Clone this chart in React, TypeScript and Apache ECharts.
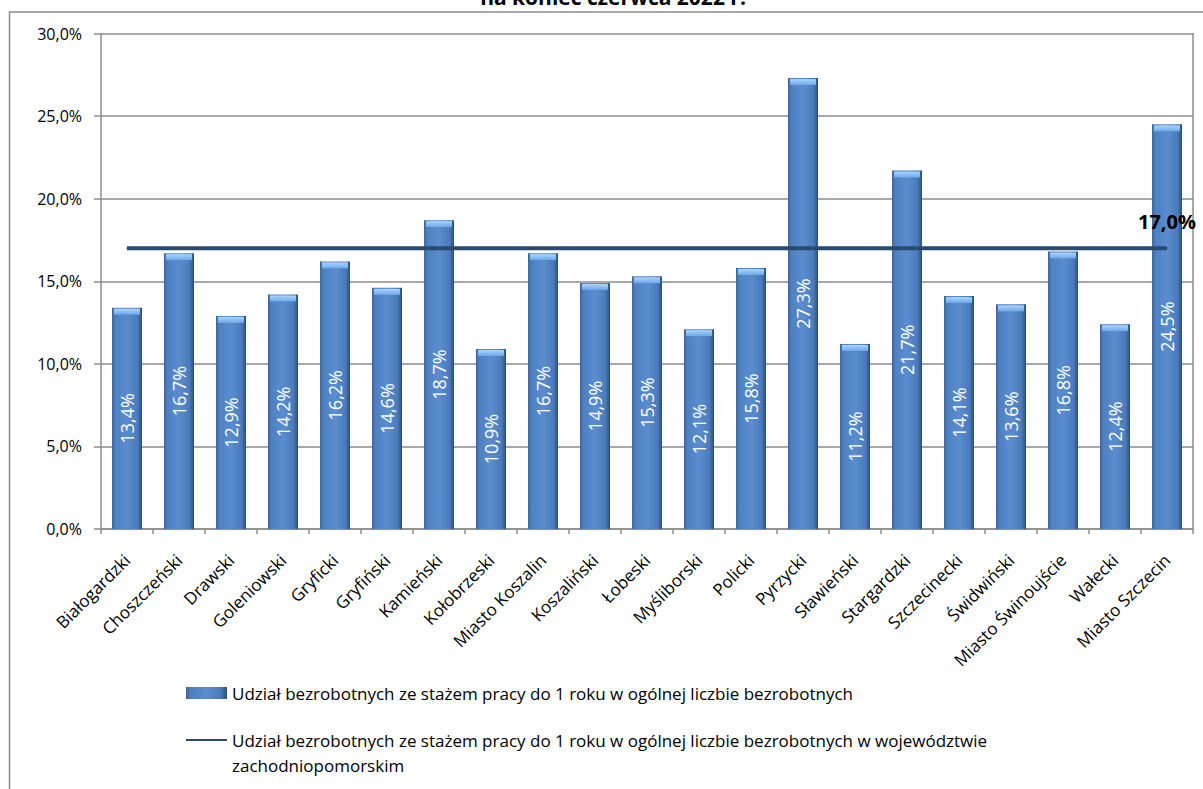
import React, { useEffect, useRef } from "react";
import * as echarts from "echarts";

const categories = [
  "Białogardzki",
  "Choszczeński",
  "Drawski",
  "Goleniowski",
  "Gryficki",
  "Gryfiński",
  "Kamieński",
  "Kołobrzeski",
  "Miasto Koszalin",
  "Koszaliński",
  "Łobeski",
  "Myśliborski",
  "Policki",
  "Pyrzycki",
  "Sławieński",
  "Stargardzki",
  "Szczecinecki",
  "Świdwiński",
  "Miasto Świnoujście",
  "Wałecki",
  "Miasto Szczecin",
];

const shareValues = [
  13.4, 16.7, 12.9, 14.2, 16.2, 14.6, 18.7, 10.9, 16.7, 14.9, 15.3, 12.1, 15.8,
  27.3, 11.2, 21.7, 14.1, 13.6, 16.8, 12.4, 24.5,
];

const voivodeshipShare = 17.0;

const yMin = 0;
const yMax = 30;
const yInterval = 5;

const titleText = "na koniec czerwca 2022 r.";
const barSeriesName =
  "Udział bezrobotnych ze stażem pracy do 1 roku w ogólnej liczbie bezrobotnych";
const lineSeriesName =
  "Udział bezrobotnych ze stażem pracy do 1 roku w ogólnej liczbie bezrobotnych w województwie zachodniopomorskim";
const lineLegendFirstLine =
  "Udział bezrobotnych ze stażem pracy do 1 roku w ogólnej liczbie bezrobotnych w województwie";
const lineLegendSecondLine = "zachodniopomorskim";

const fmt = (v: number) => v.toFixed(1).replace(".", ",") + "%";

const FONT = "'Open Sans', Lato, sans-serif";
const GRID_COLOR = "#8c8c8c";

export default function App() {
  const ref = useRef<HTMLDivElement>(null);

  useEffect(() => {
    if (!ref.current) return;
    const chart = echarts.init(ref.current, undefined, { renderer: "svg" });

    const lineData = categories.map((_, i) => {
      const isLast = i === categories.length - 1;
      return {
        value: voivodeshipShare,
        label: {
          show: isLast,
          position: "top",
          distance: 16,
          formatter: (p: any) => fmt(p.value),
          fontFamily: FONT,
          fontSize: 20,
          fontWeight: "bold",
          color: "#000",
        },
      };
    });

    const option: any = {
      animation: false,
      backgroundColor: "#fff",
      textStyle: { fontFamily: FONT },
      graphic: [
        {
          type: "rect",
          z: -10,
          shape: { x: 9.5, y: 12, width: 1300, height: 900 },
          style: { fill: "#fff", stroke: GRID_COLOR, lineWidth: 1.5 },
          silent: true,
        },
        {
          type: "text",
          x: 613,
          y: -3,
          style: {
            text: titleText,
            fontFamily: FONT,
            fontSize: 21,
            fontWeight: "bold",
            fill: "#000",
            align: "center",
            verticalAlign: "middle",
          },
        },
        {
          type: "text",
          x: 232,
          y: 765,
          style: {
            text: lineLegendSecondLine,
            fontFamily: FONT,
            fontSize: 17,
            fill: "#000",
            align: "left",
            verticalAlign: "middle",
          },
        },
      ],
      grid: {
        left: 101,
        right: 10,
        top: 33.5,
        bottom: 260,
        containLabel: false,
      },
      legend: {
        orient: "vertical",
        left: 185,
        top: 682,
        padding: 0,
        itemWidth: 41,
        itemHeight: 12,
        itemGap: 25,
        textStyle: {
          fontFamily: FONT,
          fontSize: 17,
          lineHeight: 22,
          color: "#000",
        },
        formatter: (name: string) =>
          name === lineSeriesName ? lineLegendFirstLine : name,
        data: [
          { name: barSeriesName, icon: "rect" },
          {
            name: lineSeriesName,
            itemStyle: { color: "rgba(0,0,0,0)", borderWidth: 0 },
          },
        ],
      },
      xAxis: {
        type: "category",
        data: categories,
        axisLine: { lineStyle: { color: GRID_COLOR, width: 1.5 } },
        axisTick: {
          show: true,
          length: 5,
          lineStyle: { color: GRID_COLOR, width: 1.5 },
        },
        axisLabel: {
          interval: 0,
          rotate: 45,
          margin: 28,
          fontFamily: FONT,
          fontSize: 17,
          color: "#000",
        },
      },
      yAxis: [
        {
          type: "value",
          min: yMin,
          max: yMax,
          interval: yInterval,
          axisLine: {
            show: true,
            lineStyle: { color: GRID_COLOR, width: 1.5 },
          },
          axisTick: {
            show: true,
            length: 7,
            lineStyle: { color: GRID_COLOR, width: 1.5 },
          },
          axisLabel: {
            formatter: (v: number) => fmt(v),
            margin: 19,
            fontFamily: FONT,
            fontSize: 16,
            color: "#000",
          },
          splitLine: { lineStyle: { color: GRID_COLOR, width: 1.5 } },
        },
        {
          type: "value",
          position: "right",
          min: yMin,
          max: yMax,
          interval: yInterval,
          axisLine: {
            show: true,
            lineStyle: { color: GRID_COLOR, width: 1.5 },
          },
          axisTick: { show: false },
          axisLabel: { show: false },
          splitLine: { show: false },
        },
      ],
      series: [
        {
          name: barSeriesName,
          type: "bar",
          data: shareValues,
          barWidth: 30,
          z: 2,
          itemStyle: {
            color: new echarts.graphic.LinearGradient(0, 0, 1, 0, [
              { offset: 0, color: "#3f6699" },
              { offset: 0.12, color: "#4f80c0" },
              { offset: 0.5, color: "#5a8dd0" },
              { offset: 0.85, color: "#4b7bb9" },
              { offset: 1, color: "#2c4e7a" },
            ]),
          },
          label: {
            show: true,
            position: "inside",
            rotate: 90,
            color: "#ffffff",
            fontFamily: FONT,
            fontSize: 18,
            formatter: (p: any) => fmt(p.value),
          },
        },
        {
          name: "cap",
          type: "pictorialBar",
          data: shareValues,
          symbol: "rect",
          symbolSize: [26, 6],
          symbolPosition: "end",
          symbolOffset: [0, 1],
          z: 3,
          silent: true,
          itemStyle: {
            color: new echarts.graphic.LinearGradient(0, 0, 0, 1, [
              { offset: 0, color: "#a9d6ff" },
              { offset: 1, color: "#6ea6e6" },
            ]),
          },
          label: { show: false },
          tooltip: { show: false },
        },
        {
          name: lineSeriesName,
          type: "line",
          data: lineData,
          symbol: "circle",
          symbolSize: 1,
          showSymbol: true,
          z: 4,
          itemStyle: { color: "#2a4a70" },
          lineStyle: { color: "#2a4a70", width: 4 },
        },
      ],
    };

    chart.setOption(option);
    return () => chart.dispose();
  }, []);

  return (
    <div
      ref={ref}
      style={{
        position: "absolute",
        left: 0,
        top: 0,
        width: 1203,
        height: 789,
      }}
    />
  );
}
